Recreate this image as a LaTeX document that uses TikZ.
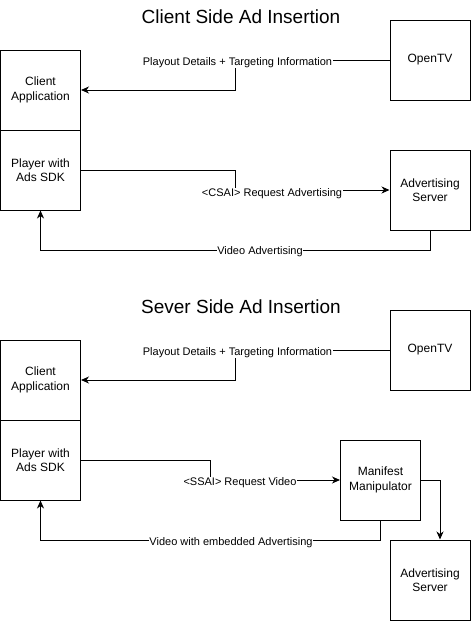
\documentclass[tikz,border=0pt]{standalone}
\usepackage{fontspec}
\setmainfont{Liberation Sans}
\usetikzlibrary{arrows.meta}
\begin{document}
\begin{tikzpicture}[x=1pt,y=-1pt,
  box/.style={draw,line width=1pt,minimum width=80pt,minimum height=80pt,inner sep=0pt,align=center,font=\fontsize{12}{14.5}\selectfont,fill=white},
  lbl/.style={fill=white,inner sep=0.5pt,anchor=base,font=\fontsize{11}{13}\selectfont},
  ttl/.style={anchor=base,font=\fontsize{19}{22}\selectfont},
  conn/.style={line width=1pt,-{Stealth[length=8pt,width=7pt,inset=2.5pt]}}]
\useasboundingbox (0,0) rectangle (471,621);
% ---------- Client side ----------
\node[ttl] (t1) at (241,23.5) {Client Side Ad Insertion};
\node[box] (ca1) at (40.5,90) {Client\\Application};
\node[box] (pl1) at (40.5,170) {Player with\\Ads SDK};
\node[box] (otv1) at (430,60) {OpenTV};
\node[box] (adv1) at (430,190) {Advertising\\Server};
\draw[conn] (otv1.west) -- (235.5,60) |- (ca1.east);
\draw[conn] (pl1.east) -- (235.5,170) |- (adv1.west);
\draw[conn] (adv1.south) -- (430,250) -| (pl1.south);
\node[lbl] (l1) at (237.5,65.2) {Playout Details + Targeting Information};
\node[lbl] (l2) at (272,196.2) {<CSAI> Request Advertising};
\node[lbl] (l3) at (260,254.6) {Video Advertising};
% ---------- Server side ----------
\node[ttl] (t2) at (241,313.5) {Sever Side Ad Insertion};
\node[box] (ca2) at (40.5,380) {Client\\Application};
\node[box] (pl2) at (40.5,460) {Player with\\Ads SDK};
\node[box] (otv2) at (430,350) {OpenTV};
\node[box] (mm) at (380.5,480) {Manifest\\Manipulator};
\node[box] (adv2) at (430,580) {Advertising\\Server};
\coordinate (adv2in) at ([xshift=10pt]adv2.north);
\draw[conn] (otv2.west) -- (235.5,350) |- (ca2.east);
\draw[conn] (pl2.east) -- (210.5,460) |- (mm.west);
\draw[conn] (mm.south) -- (380.5,540) -| (pl2.south);
\draw[conn] (mm.east) -| (adv2in);
\node[lbl] (l4) at (237.5,355.2) {Playout Details + Targeting Information};
\node[lbl] (l5) at (240,485.3) {<SSAI> Request Video};
\node[lbl] (l6) at (231,545.6) {Video with embedded Advertising};
\end{tikzpicture}
\end{document}
